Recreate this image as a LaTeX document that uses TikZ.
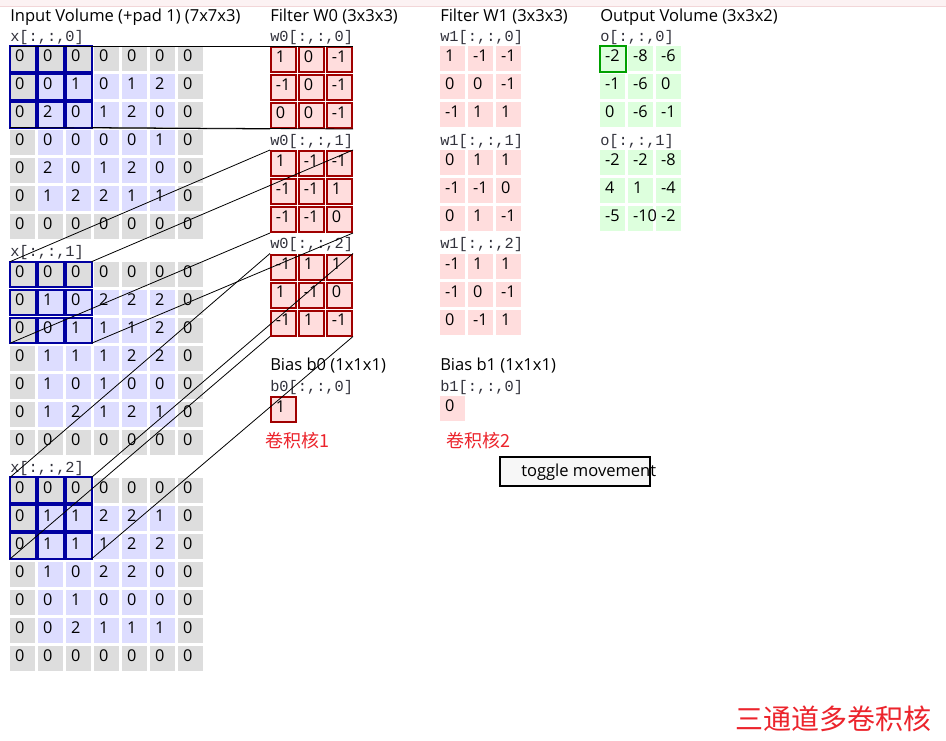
\documentclass[tikz,border=0pt]{standalone}
\usepackage{fontspec}
\setmainfont{Open Sans}
\setmonofont{Liberation Mono}
\newfontfamily\cjk{Noto Sans CJK SC}
\definecolor{padgray}{RGB}{221,221,221}
\definecolor{lav}{RGB}{221,221,255}
\definecolor{pinkf}{RGB}{255,221,221}
\definecolor{greenf}{RGB}{221,255,221}
\definecolor{blueb}{RGB}{0,0,160}
\definecolor{redb}{RGB}{160,0,0}
\definecolor{greenb}{RGB}{0,160,0}
\definecolor{cnred}{RGB}{236,36,44}
\definecolor{toppink}{RGB}{252,242,243}
\definecolor{topline}{RGB}{242,214,216}
\definecolor{monoc}{RGB}{50,50,60}
\tikzset{
  cell/.style={anchor=north west, inner xsep=3.6pt, inner ysep=0pt,
    minimum width=18.75pt, minimum height=18.75pt,
    text width=11.55pt, align=left, text height=11.5pt, text depth=7.25pt,
    font=\fontsize{12.2pt}{13pt}\selectfont},
  hlblue/.style={draw=blueb, line width=1.5pt},
  title/.style={anchor=base west, inner sep=0pt, font=\fontsize{12.4pt}{14pt}\selectfont},
  mono/.style={anchor=base west, inner sep=0pt, text=monoc, font=\fontsize{11.5pt}{13pt}\ttfamily},
  conn/.style={draw=black, line width=0.6pt},
  cnlabel/.style={anchor=base west, inner sep=0pt, text=cnred},
  btn/.style={draw=black, line width=1.5pt, fill=white!97!black}
}
% input grid: #1 channel, #2 top y, #3 rows
\newcommand\ingrid[3]{%
  \foreach \row [count=\i from 0] in {#3} {
    \foreach \v [count=\j from 0] in \row {
      \pgfmathtruncatemacro\ispad{(\i==0||\i==6||\j==0||\j==6)?1:0}
      \ifnum\ispad=1 \def\cfill{padgray}\else\def\cfill{lav}\fi
      \node[cell, fill=\cfill] (in#1-\i-\j) at ({10+28*\j},{#2+28*\i}) {\mbox{\v}};
    }
  }
  \foreach \i in {0,1,2} {\foreach \j in {0,1,2} {
    \draw[hlblue] (in#1-\i-\j.north west) rectangle (in#1-\i-\j.south east);
  }}
}
% 3x3 grid: #1 name prefix, #2 left x, #3 top y, #4 fill, #5 extra style, #6 rows
\newcommand\smallgrid[6]{%
  \foreach \row [count=\i from 0] in {#6} {
    \foreach \v [count=\j from 0] in \row {
      \node[cell, fill=#4, #5] (#1-\i-\j) at ({#2+28*\j},{#3+28*\i}) {\mbox{\v}};
    }
  }
}
\begin{document}
\begin{tikzpicture}[x=0.75pt,y=-0.75pt]
\useasboundingbox (0,0) rectangle (946,740);
\fill[white] (0,0) rectangle (946,740);
\fill[toppink] (0,0) rectangle (946,6);
\draw[topline, line width=0.75pt] (0,6) -- (946,6);

% titles
\node[title] (tIn) at (10,21) {Input Volume (+pad 1) (7x7x3)};
\node[title] (tW0) at (270,21) {Filter W0 (3x3x3)};
\node[title] (tW1) at (440,21) {Filter W1 (3x3x3)};
\node[title] (tOut) at (600,21) {Output Volume (3x3x2)};

% input volume
\node[mono] (lx0) at (10,41) {x[:,:,0]};
\ingrid{0}{46}{{0,0,0,0,0,0,0},{0,0,1,0,1,2,0},{0,2,0,1,2,0,0},{0,0,0,0,0,1,0},{0,2,0,1,2,0,0},{0,1,2,2,1,1,0},{0,0,0,0,0,0,0}}
\node[mono] (lx1) at (10,256.7) {x[:,:,1]};
\ingrid{1}{261.7}{{0,0,0,0,0,0,0},{0,1,0,2,2,2,0},{0,0,1,1,1,2,0},{0,1,1,1,2,2,0},{0,1,0,1,0,0,0},{0,1,2,1,2,1,0},{0,0,0,0,0,0,0}}
\node[mono] (lx2) at (10,472.4) {x[:,:,2]};
\ingrid{2}{477.4}{{0,0,0,0,0,0,0},{0,1,1,2,2,1,0},{0,1,1,1,2,2,0},{0,1,0,2,2,0,0},{0,0,1,0,0,0,0},{0,0,2,1,1,1,0},{0,0,0,0,0,0,0}}

% filter W0
\node[mono] (lw00) at (270,41) {w0[:,:,0]};
\smallgrid{w0-0}{270}{46}{pinkf}{draw=redb, line width=1.5pt}{{1,0,-1},{-1,0,-1},{0,0,-1}}
\node[mono] (lw01) at (270,145) {w0[:,:,1]};
\smallgrid{w0-1}{270}{150}{pinkf}{draw=redb, line width=1.5pt}{{1,-1,-1},{-1,-1,1},{-1,-1,0}}
\node[mono] (lw02) at (270,248.5) {w0[:,:,2]};
\smallgrid{w0-2}{270}{253.5}{pinkf}{draw=redb, line width=1.5pt}{{-1,1,1},{1,-1,0},{-1,1,-1}}

% filter W1
\node[mono] (lw10) at (440,41) {w1[:,:,0]};
\smallgrid{w1-0}{440}{46}{pinkf}{}{{1,-1,-1},{0,0,-1},{-1,1,1}}
\node[mono] (lw11) at (440,145) {w1[:,:,1]};
\smallgrid{w1-1}{440}{150}{pinkf}{}{{0,1,1},{-1,-1,0},{0,1,-1}}
\node[mono] (lw12) at (440,248.5) {w1[:,:,2]};
\smallgrid{w1-2}{440}{253.5}{pinkf}{}{{-1,1,1},{-1,0,-1},{0,-1,1}}

% output
\node[mono] (lo0) at (600,41) {o[:,:,0]};
\smallgrid{o0}{600}{46}{greenf}{}{{-2,-8,-6},{-1,-6,0},{0,-6,-1}}
\draw[draw=greenb, line width=1.5pt] (o0-0-0.north west) rectangle (o0-0-0.south east);
\node[mono] (lo1) at (600,145) {o[:,:,1]};
\smallgrid{o1}{600}{150}{greenf}{}{{-2,-2,-8},{4,1,-4},{-5,-10,-2}}

% biases
\node[title] (tb0) at (270,370) {Bias b0 (1x1x1)};
\node[mono] (lb0) at (270,391) {b0[:,:,0]};
\node[cell, fill=pinkf, draw=redb, line width=1.5pt] (b0) at (270,396) {1};
\node[title] (tb1) at (440,370) {Bias b1 (1x1x1)};
\node[mono] (lb1) at (440,391) {b1[:,:,0]};
\node[cell, fill=pinkf] (b1) at (440,396) {0};

% red annotations
\node[cnlabel, font=\fontsize{13.5pt}{15pt}\cjk] (k1) at (265,447) {卷积核1};
\node[cnlabel, font=\fontsize{13.5pt}{15pt}\cjk] (k2) at (446,447) {卷积核2};
\node[cnlabel, font=\fontsize{21pt}{24pt}\cjk] (k3) at (735,729) {三通道多卷积核};

% button
\draw[btn] (500,457) rectangle (650,486);
\node[title] (btntext) at (521,476) {toggle movement};

% connectors from receptive field corners to filter corners
\foreach \c in {0,1,2} {
  \draw[conn] (in\c-0-0.north west) -- (w0-\c-0-0.north west);
  \draw[conn] (in\c-0-2.north east) -- (w0-\c-0-2.north east);
  \draw[conn] (in\c-2-0.south west) -- (w0-\c-2-0.south west);
  \draw[conn] (in\c-2-2.south east) -- (w0-\c-2-2.south east);
}
\end{tikzpicture}
\end{document}
